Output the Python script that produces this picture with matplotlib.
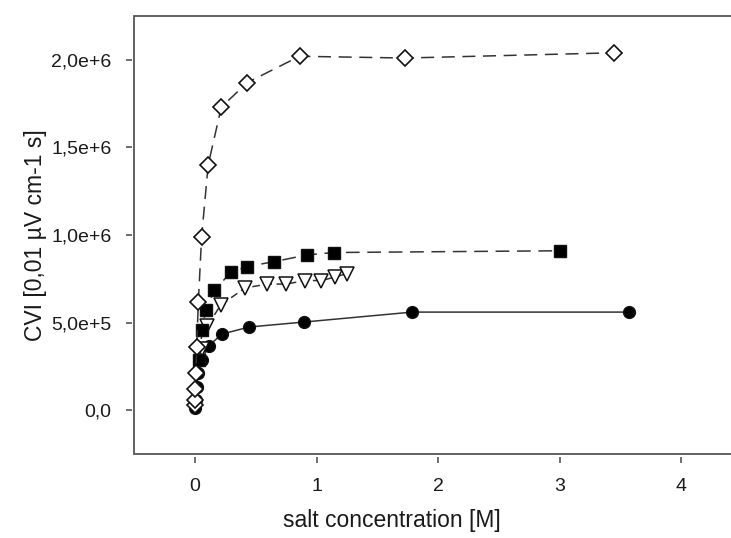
import matplotlib
matplotlib.use("Agg")
import matplotlib.pyplot as plt

plt.rcParams['font.family'] = ['Liberation Sans', 'DejaVu Sans']

# salt concentration [M] / CVI values (x 1e6)
circ_x = [0.0035, 0.007, 0.014, 0.028, 0.056, 0.112, 0.223, 0.447, 0.893, 1.787, 3.57]
circ_y = [0.015, 0.06, 0.13, 0.21, 0.285, 0.368, 0.435, 0.475, 0.503, 0.56, 0.56]

tri_x = [0.055, 0.10, 0.21, 0.41, 0.59, 0.75, 0.905, 1.04, 1.15, 1.25]
tri_y = [0.35, 0.478, 0.60, 0.697, 0.72, 0.72, 0.74, 0.74, 0.76, 0.78]

sq_x = [0.035, 0.058, 0.088, 0.16, 0.296, 0.43, 0.65, 0.92, 1.14, 3.0]
sq_y = [0.285, 0.455, 0.573, 0.685, 0.788, 0.82, 0.848, 0.886, 0.90, 0.91]

dia_x = [0.0008, 0.0017, 0.0034, 0.0067, 0.0135, 0.027, 0.054, 0.108, 0.216, 0.43, 0.86, 1.73, 3.45]
dia_y = [0.03, 0.06, 0.12, 0.21, 0.36, 0.615, 0.99, 1.40, 1.73, 1.87, 2.02, 2.01, 2.04]

xticks = [0, 1, 2, 3, 4]
yticks = [0, 0.5, 1.0, 1.5, 2.0]
ytick_labels = ["0,0", "5,0e+5", "1,0e+6", "1,5e+6", "2,0e+6"]

line_c = "#333333"
edge_c = "#111111"
text_c = "#1a1a1a"

fig = plt.figure(figsize=(7.31, 5.38), dpi=100)
ax = fig.add_axes([0.1837, 0.1561, 1.015 - 0.1837, 0.9703 - 0.1561])

ax.plot(circ_x, circ_y, '-', color=line_c, lw=1.1, marker='o', ms=8.5,
        mfc='black', mec=edge_c, zorder=3)
ax.plot(tri_x, tri_y, color=line_c, lw=1.1, dashes=(5, 3), marker='v', ms=9.5,
        mfc='white', mec=edge_c, mew=1.1, zorder=4)
ax.plot(sq_x, sq_y, color=line_c, lw=1.1, dashes=(9, 5), marker='s', ms=8,
        mfc='black', mec=edge_c, zorder=5)
ax.plot(dia_x, dia_y, color=line_c, lw=1.1, dashes=(8.5, 5), marker='D', ms=8.5,
        mfc='white', mec=edge_c, mew=1.2, zorder=6)

ax.set_xlim(-0.5, 4.5)
ax.set_ylim(-0.25, 2.25)

ax.set_xticks(xticks)
ax.set_yticks(yticks)
ax.set_yticklabels(ytick_labels)

# frame drawn by the axes patch, ticks sit on spines pushed slightly outward
for s in ['top', 'right']:
    ax.spines[s].set_visible(False)
for s in ['left', 'bottom']:
    ax.spines[s].set_position(('outward', 2))
    ax.spines[s].set_visible(False)
ax.patch.set_edgecolor('#555555')
ax.patch.set_linewidth(1.3)

ax.tick_params(direction='out', length=4.5, width=1.2, color='#555555',
               labelsize=14, labelcolor=text_c)
ax.tick_params(axis='x', pad=11)
ax.tick_params(axis='y', pad=10)

ax.set_xlabel("salt concentration [M]", fontsize=16.5, color=text_c, labelpad=11)
ax.xaxis.set_label_coords(0.424, -0.125)
ax.set_ylabel("CVI [0,01 µV cm-1 s]", fontsize=16.5, color=text_c, labelpad=3)

fig.savefig("out.png", dpi=100)
